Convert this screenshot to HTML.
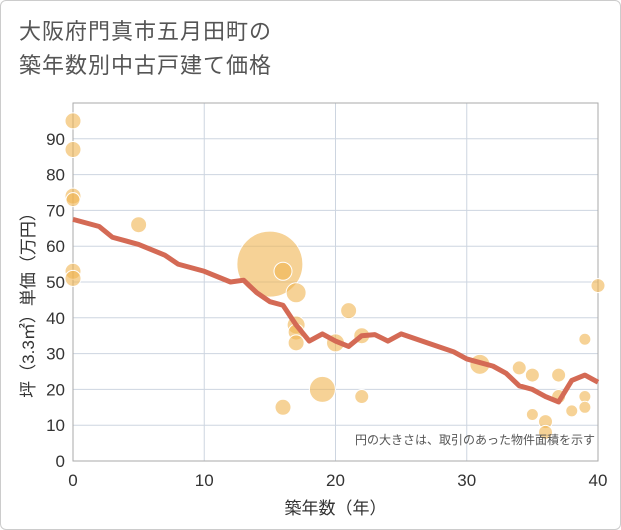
<!DOCTYPE html>
<html><head><meta charset="utf-8"><style>
body{margin:0;background:#fff;font-family:"Liberation Sans","Noto Sans CJK JP",sans-serif}
#wrap{position:relative;width:621px;height:530px;box-sizing:border-box;border:1px solid #ccc;border-radius:6px;overflow:hidden}
#title{position:absolute;left:18px;top:14px;font-size:22px;line-height:34px;color:#555;letter-spacing:1px}
</style></head><body>
<div id="wrap">
<div id="title">大阪府門真市五月田町の<br>築年数別中古戸建て価格</div>
<svg id="svg" width="621" height="530" style="position:absolute;left:0;top:0"></svg>
</div>
<script>
const xTicks=[0,10,20,30,40];
const yTicks=[0,10,20,30,40,50,60,70,80,90];
const lineX=[0,2,3,5,7,8,10,12,13,14,15,16,17,18,19,20,21,22,23,24,25,27,29,30,31,32,33,34,35,36,37,38,39,40];
const lineY=[67.5,65.5,62.5,60.5,57.5,55,53,50,50.5,47,44.5,43.5,38,33.5,35.5,33.5,32,35,35.3,33.5,35.5,33,30.5,28.5,27.5,26.5,24.5,21,20,18,16.5,22.5,24,22];
const bubX=[0,0,0,0,0,0,5,15,16,17,17,17,17,16,19,20,21,22,22,31,34,35,35,36,36,37,37,38,39,39,39,40];
const bubY=[95,87,74,73,53,51,66,55,53,47,38,36,33,15,20,33,42,35,18,27,26,24,13,11,8,24,18,14,34,18,15,49];
const bubS=[8,8,8,7,8,8,8,33,9,10,9,8,8,8,13,9,8,8,7,10,7,7,6,7,7,7,7,6,6,6,6,7];
const NS="http://www.w3.org/2000/svg";
const svg=document.getElementById('svg');
const X0=72,X1=597,Y0=460,Y1=102;
const sx=v=>X0+v*(X1-X0)/40, sy=v=>Y0-v*(Y0-Y1)/100;
function mk(t,a,p){const e=document.createElementNS(NS,t);for(const k in a)e.setAttribute(k,a[k]);(p||svg).appendChild(e);return e;}
const grid=mk('g',{});


yTicks.forEach(v=>{mk('line',{x1:X0,x2:X1,y1:sy(v),y2:sy(v),stroke:'#cdd5e0','stroke-width':1},grid);
const t=mk('text',{x:X0-8,y:sy(v)+6,'text-anchor':'end','font-size':17,fill:'#333'});t.textContent=v;
});
xTicks.forEach(v=>{mk('line',{x1:sx(v),x2:sx(v),y1:Y1,y2:Y0,stroke:'#cdd5e0','stroke-width':1},grid);
const t=mk('text',{x:sx(v),y:Y0+25,'text-anchor':'middle','font-size':17,fill:'#333'});t.textContent=v;
});
mk('rect',{x:X0,y:Y1,width:X1-X0,height:Y0-Y1,fill:'none',stroke:'#aaa'});
const bg=mk('g',{});


bubX.forEach((x,i)=>{const c=mk('circle',{cx:sx(x),cy:sy(bubY[i]),r:bubS[i],fill:'rgba(240,180,80,0.6)',stroke:'#fff','stroke-width':1},bg);
});
const pl=mk('polyline',{points:lineX.map((x,i)=>sx(x)+','+sy(lineY[i])).join(' '),fill:'none',stroke:'#d46a55','stroke-width':5,'stroke-linejoin':'round'});


const note=mk('text',{x:594,y:443,'text-anchor':'end','font-size':12,fill:'#555'});note.textContent='円の大きさは、取引のあった物件面積を示す';

const xt=mk('text',{x:(X0+X1)/2,y:513,'text-anchor':'middle','font-size':17,fill:'#333'});xt.textContent='築年数（年）';

const yt=mk('text',{x:0,y:0,'text-anchor':'middle','font-size':17,fill:'#333',transform:'translate(33,300) rotate(-90)'});yt.textContent='坪（3.3㎡）単価（万円）';

</script>
</body></html>
